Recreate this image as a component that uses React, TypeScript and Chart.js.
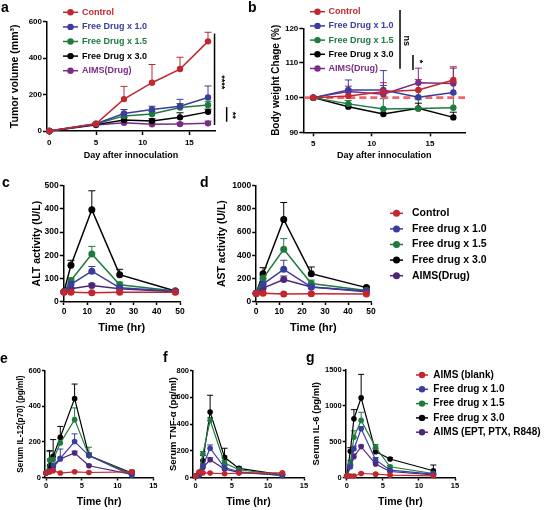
import React, { useEffect, useRef } from "react";
import { Chart, registerables } from "chart.js";
Chart.register(...registerables);

const FONT = '"Liberation Sans", Arial, Helvetica, sans-serif';
const RED = "#c1272d";
const BLUE = "#3b3d9e";
const GREEN = "#1e7b3d";
const BLACK = "#000000";
const PURPLE_A = "#7b2c86";
const PURPLE = "#4e2778";

// ---------- Panel a: tumor volume ----------
const aDays = [0, 5, 8, 11, 14, 17];
const aLabels = ["Control", "Free Drug x 1.0", "Free Drug x 1.5", "Free Drug x 3.0", "AIMS(Drug)"];
const aControl = [0, 40, 175, 265, 340, 492];
const aControlErr = [0, 5, 70, 100, 65, 50];
const aFree10 = [0, 40, 96, 118, 136, 184];
const aFree10Err = [0, 4, 22, 18, 38, 63];
const aFree15 = [0, 38, 83, 93, 129, 143];
const aFree15Err = [0, 4, 14, 14, 22, 20];
const aFree30 = [0, 35, 60, 55, 75, 105];
const aFree30Err = [0, 3, 14, 12, 25, 15];
const aAims = [0, 33, 45, 37, 38, 42];
const aAimsErr = [0, 3, 10, 8, 8, 12];
const aXTicks = [0, 5, 10, 15];
const aYTicks = [0, 200, 400, 600];

// ---------- Panel b: body weight ----------
const bDays = [5, 8, 11, 14, 17];
const bControl = [100, 100.5, 101.7, 102.2, 105.1];
const bControlErr = [0, 1.9, 2.6, 3, 3.8];
const bFree10 = [100, 102.2, 102.2, 100.1, 101.5];
const bFree10Err = [0, 2.9, 5.6, 2, 3];
const bFree15 = [100, 98.2, 96.7, 96.9, 97.1];
const bFree15Err = [0, 1, 3, 2.5, 4];
const bFree30 = [100, 97.4, 95.3, 96.9, 94.3];
const bFree30Err = [0, 0.8, 1.5, 1.5, 1.5];
const bAims = [100, 101.8, 101.0, 104.3, 104.1];
const bAimsErr = [0, 1.5, 2.5, 4.2, 4.4];
const bXTicks = [5, 10, 15];
const bYTicks = [90, 100, 110, 120];
const bReference = 100;

// ---------- Panels c, d: ALT / AST ----------
const cdLabels = ["Control", "Free drug x 1.0", "Free drug x 1.5", "Free drug x 3.0", "AIMS(Drug)"];
const cdTimes = [0, 3, 12, 24, 48];
const cControl = [40, 40, 38, 40, 40];
const cControlErr = [0, 3, 3, 3, 3];
const cFree10 = [42, 74, 131, 59, 44];
const cFree10Err = [0, 8, 20, 8, 3];
const cFree15 = [42, 91, 205, 72, 45];
const cFree15Err = [0, 10, 33, 12, 4];
const cFree30 = [42, 157, 396, 116, 45];
const cFree30Err = [0, 21, 82, 23, 5];
const cAims = [42, 55, 69, 55, 42];
const cAimsErr = [0, 5, 8, 5, 3];
const cYTicks = [0, 100, 200, 300, 400, 500];

const dControl = [70, 72, 65, 68, 65];
const dControlErr = [0, 5, 5, 5, 5];
const dFree10 = [72, 150, 278, 125, 90];
const dFree10Err = [0, 20, 78, 15, 10];
const dFree15 = [72, 200, 451, 155, 95];
const dFree15Err = [0, 25, 92, 30, 10];
const dFree30 = [72, 240, 708, 240, 120];
const dFree30Err = [0, 52, 147, 58, 10];
const dAims = [72, 115, 190, 125, 85];
const dAimsErr = [0, 15, 30, 15, 8];
const cdXTicks = [0, 10, 20, 30, 40, 50];
const dYTicks = [0, 200, 400, 600, 800, 1000];

// ---------- Panels e, f, g: cytokines ----------
const gLabels = ["AIMS (blank)", "Free drug x 1.0", "Free drug x 1.5", "Free drug x 3.0", "AIMS (EPT, PTX, R848)"];
const efgTimes = [0, 0.5, 1, 2, 4, 6, 12];
const efgXTicks = [0, 5, 10, 15];

const eBlank = [25, 32, 38, 25, 32, 28, 32];
const eBlankErr = [0, 3, 4, 3, 4, 3, 4];
const eFree10 = [25, 38, 66, 108, 202, 123, 12];
const eFree10Err = [0, 5, 15, 52, 43, 10, 30];
const eFree15 = [25, 98, 100, 194, 325, 123, 20];
const eFree15Err = [0, 47, 20, 23, 66, 47, 10];
const eFree30 = [25, 66, 119, 226, 443, 123, 25];
const eFree30Err = [0, 85, 94, 61, 82, 15, 10];
const eAims = [25, 32, 57, 104, 138, 66, 18];
const eAimsErr = [0, 5, 10, 10, 10, 8, 5];
const eYTicks = [0, 200, 400, 600];

const fBlank = [10, 43, 35, 33, 28, 33, 35];
const fBlankErr = [0, 4, 4, 4, 4, 4, 4];
const fFree10 = [10, 20, 88, 219, 75, 43, 15];
const fFree10Err = [0, 5, 15, 25, 15, 8, 5];
const fFree15 = [10, 25, 176, 428, 108, 58, 20];
const fFree15Err = [0, 8, 18, 20, 20, 10, 5];
const fFree30 = [10, 30, 126, 490, 151, 68, 20];
const fFree30Err = [0, 10, 40, 126, 68, 10, 5];
const fAims = [10, 20, 75, 133, 63, 38, 15];
const fAimsErr = [0, 5, 10, 15, 10, 5, 5];
const fYTicks = [0, 200, 400, 600, 800];

const gBlank = [20, 20, 20, 56, 47, 33, 23];
const gBlankErr = [0, 5, 5, 10, 8, 5, 5];
const gFree10 = [20, 150, 398, 680, 248, 103, 47];
const gFree10Err = [0, 30, 40, 30, 30, 10, 10];
const gFree15 = [20, 200, 562, 797, 422, 150, 56];
const gFree15Err = [0, 40, 90, 113, 40, 20, 10];
const gFree30 = [20, 366, 820, 1111, 361, 258, 94];
const gFree30Err = [0, 50, 127, 328, 40, 20, 80];
const gAims = [20, 150, 290, 431, 188, 84, 37];
const gAimsErr = [0, 20, 40, 20, 20, 10, 5];
const gYTicks = [0, 500, 1000, 1500];

type Series = { label: string; color: string; xs: number[]; ys: number[]; errs: number[] };

function five(labels: string[], colors: string[], xs: number[], ys: number[][], errs: number[][]): Series[] {
  return labels.map((label, i) => ({ label, color: colors[i], xs, ys: ys[i], errs: errs[i] }));
}

const COLORS_AB = [RED, BLUE, GREEN, BLACK, PURPLE_A];
const COLORS = [RED, BLUE, GREEN, BLACK, PURPLE];

const PANELS: any[] = [
  {
    box: [0, 0, 245, 170], area: [47, 21.7, 215, 131],
    xMin: -0.25, xMax: 17.75, xTicks: aXTicks, xTitle: "Day after innoculation", xTitleSize: 9, xTitleY: 155.2,
    yMin: 0, yMax: 600, yTicks: aYTicks, yTitle: "Tumor volume (mm³)", yTitleSize: 10.5, yTitleX: 15.6,
    tickSize: 8, tickLen: 4, xTickPad: 3, yTickPad: 1, pointR: 3.2, lineW: 1.5, cap: 3.5,
    series: five(aLabels, COLORS_AB, aDays,
      [aControl, aFree10, aFree15, aFree30, aAims],
      [aControlErr, aFree10Err, aFree15Err, aFree30Err, aAimsErr]),
    legend: { x: 63, y: 12.3, dy: 14.6, size: 9, colored: true, lineW: 15, r: 3.2, gap: 4 },
    sig: {
      lines: [{ x: 17.7, y1: 33, y2: 535 }, { x: 19.0, y1: 51, y2: 131 }],
      texts: [{ x: 18.45, y: 267, text: "****" }, { x: 19.65, y: 87, text: "**" }],
    },
  },
  {
    box: [262, 0, 284, 170], area: [303.3, 28.3, 465, 132.3],
    xMin: 4.14, xMax: 18, xTicks: bXTicks, xTitle: "Day after innoculation", xTitleSize: 9, xTitleY: 155.3,
    yMin: 90, yMax: 120, yTicks: bYTicks, yTitle: "Body weight Chage (%)", yTitleSize: 10, yTitleX: 276.5,
    tickSize: 8, tickLen: 4, xTickPad: 3, yTickPad: 1, pointR: 3.2, lineW: 1.5, cap: 3.5,
    series: five(aLabels, COLORS_AB, bDays,
      [bControl, bFree10, bFree15, bFree30, bAims],
      [bControlErr, bFree10Err, bFree15Err, bFree30Err, bAimsErr]),
    legend: { x: 310, y: 11.7, dy: 14.2, size: 9, colored: true, lineW: 15, r: 3.2, gap: 3.5 },
    refLine: bReference,
    sig: {
      lines: [{ x: 12.43, y1: 108.3, y2: 125.3 }, { x: 13.54, y1: 108, y2: 112.3 }],
      texts: [{ x: 12.98, y: 116.4, text: "ns" }, { x: 14.1, y: 110.4, text: "*" }],
    },
  },
  {
    box: [0, 170, 190, 170], area: [63.3, 185.7, 180, 301.5],
    xMin: -0.3, xMax: 50, xTicks: cdXTicks, xTitle: "Time (hr)", xTitleSize: 11, xTitleY: 328,
    yMin: 0, yMax: 500, yTicks: cYTicks, yTitle: "ALT activity (U/L)", yTitleSize: 10.5, yTitleX: 37.3,
    tickSize: 8.5, tickLen: 3.5, xTickPad: 2, yTickPad: 1, pointR: 3.5, lineW: 1.5, cap: 3.5,
    series: five(cdLabels, COLORS, cdTimes,
      [cControl, cFree10, cFree15, cFree30, cAims],
      [cControlErr, cFree10Err, cFree15Err, cFree30Err, cAimsErr]),
  },
  {
    box: [190, 170, 356, 170], area: [255.7, 185.7, 371, 301.5],
    xMin: -0.2, xMax: 50, xTicks: cdXTicks, xTitle: "Time (hr)", xTitleSize: 11, xTitleY: 328,
    yMin: 0, yMax: 1000, yTicks: dYTicks, yTitle: "AST activity (U/L)", yTitleSize: 10.5, yTitleX: 221.8,
    tickSize: 8.5, tickLen: 3.5, xTickPad: 2, yTickPad: 1, pointR: 3.5, lineW: 1.5, cap: 3.5,
    series: five(cdLabels, COLORS, cdTimes,
      [dControl, dFree10, dFree15, dFree30, dAims],
      [dControlErr, dFree10Err, dFree15Err, dFree30Err, dAimsErr]),
    legend: { x: 390, y: 213.3, dy: 15.6, size: 10.5, colored: false, lineW: 13, r: 3.5, gap: 9 },
  },
  {
    box: [0, 340, 170, 170], area: [45, 370.7, 153.3, 477.5],
    xMin: -0.14, xMax: 15, xTicks: efgXTicks, xTitle: "Time (hr)", xTitleSize: 10.5, xTitleY: 502.1,
    yMin: 0, yMax: 600, yTicks: eYTicks, yTitle: "Serum IL-12(p70) (pg/ml)", yTitleSize: 8.3, yTitleX: 20.5,
    tickSize: 7.5, tickLen: 3, xTickPad: 1, yTickPad: 1, pointR: 2.8, lineW: 1.2, cap: 3,
    series: five(gLabels, COLORS, efgTimes,
      [eBlank, eFree10, eFree15, eFree30, eAims],
      [eBlankErr, eFree10Err, eFree15Err, eFree30Err, eAimsErr]),
  },
  {
    box: [160, 340, 160, 170], area: [193, 370.7, 304, 477.5],
    xMin: -0.37, xMax: 15, xTicks: efgXTicks, xTitle: "Time (hr)", xTitleSize: 10.5, xTitleY: 502.1,
    yMin: 0, yMax: 800, yTicks: fYTicks, yTitle: "Serum TNF-α (pg/ml)", yTitleSize: 9.5, yTitleX: 173.2,
    tickSize: 7.5, tickLen: 3, xTickPad: 1, yTickPad: 1, pointR: 2.8, lineW: 1.2, cap: 3,
    series: five(gLabels, COLORS, efgTimes,
      [fBlank, fFree10, fFree15, fFree30, fAims],
      [fBlankErr, fFree10Err, fFree15Err, fFree30Err, fAimsErr]),
  },
  {
    box: [310, 340, 236, 170], area: [345.7, 370, 455, 477.5],
    xMin: -0.14, xMax: 15, xTicks: efgXTicks, xTitle: "Time (hr)", xTitleSize: 10.5, xTitleY: 502.1,
    yMin: 0, yMax: 1500, yTicks: gYTicks, yTitle: "Serum IL-6 (pg/ml)", yTitleSize: 9.5, yTitleX: 316.2,
    tickSize: 7.5, tickLen: 3, xTickPad: 1, yTickPad: 1, pointR: 2.8, lineW: 1.2, cap: 3,
    series: five(gLabels, COLORS, efgTimes,
      [gBlank, gFree10, gFree15, gFree30, gAims],
      [gBlankErr, gFree10Err, gFree15Err, gFree30Err, gAimsErr]),
    legend: { x: 416, y: 375, dy: 14.3, size: 10, colored: false, lineW: 12, r: 3.2, gap: 5.3 },
  },
];

const PANEL_LETTERS = [
  { t: "a", x: 1, y: 0 },
  { t: "b", x: 248, y: 0 },
  { t: "c", x: 2, y: 175 },
  { t: "d", x: 200, y: 175 },
  { t: "e", x: 0, y: 351 },
  { t: "f", x: 163, y: 350 },
  { t: "g", x: 306, y: 350 },
];

function build(canvas: HTMLCanvasElement, p: any) {
  const [bx, by, bw, bh] = p.box;
  const [al, at, ar, ab] = p.area;
  const yW = al - bx;
  const xH = by + bh - ab;
  const padTop = at - by;
  const padRight = bx + bw - ar;
  const tickFont = { family: FONT, size: p.tickSize, weight: "bold" as const };
  const xPadBottom = by + bh - p.xTitleY - (p.xTitleSize * 1.2) / 2;
  const yPadTop = p.yTitleX - bx - (p.yTitleSize * 1.2) / 2;

  const errorBars = {
    id: "errorBars",
    beforeDatasetsDraw(chart: any) {
      const ctx = chart.ctx;
      const ys = chart.scales.y;
      chart.data.datasets.forEach((ds: any, i: number) => {
        const meta = chart.getDatasetMeta(i);
        ctx.save();
        ctx.strokeStyle = ds.borderColor;
        ctx.lineWidth = 1;
        meta.data.forEach((pt: any, j: number) => {
          const e = ds.errs[j];
          if (!e) return;
          const top = ys.getPixelForValue(ds.data[j].y + e);
          ctx.beginPath();
          ctx.moveTo(pt.x, pt.y);
          ctx.lineTo(pt.x, top);
          ctx.moveTo(pt.x - p.cap, top);
          ctx.lineTo(pt.x + p.cap, top);
          ctx.stroke();
        });
        ctx.restore();
      });
      if (p.refLine !== undefined) {
        const y = ys.getPixelForValue(p.refLine);
        ctx.save();
        ctx.strokeStyle = "#f2646b";
        ctx.lineWidth = 2.6;
        ctx.setLineDash([7, 4]);
        ctx.beginPath();
        ctx.moveTo(chart.chartArea.left + 1, y);
        ctx.lineTo(chart.chartArea.right, y);
        ctx.stroke();
        ctx.restore();
      }
    },
  };

  const extras = {
    id: "extras",
    afterDraw(chart: any) {
      const ctx = chart.ctx;
      if (p.legend) {
        const L = p.legend;
        chart.data.datasets.forEach((ds: any, i: number) => {
          const x = L.x - bx;
          const y = L.y - by + i * L.dy;
          ctx.save();
          ctx.strokeStyle = ds.borderColor;
          ctx.fillStyle = ds.borderColor;
          ctx.lineWidth = 1.5;
          ctx.beginPath();
          ctx.moveTo(x, y);
          ctx.lineTo(x + L.lineW, y);
          ctx.stroke();
          ctx.beginPath();
          ctx.arc(x + L.lineW / 2, y, L.r, 0, Math.PI * 2);
          ctx.fill();
          ctx.font = `bold ${L.size}px ${FONT}`;
          ctx.fillStyle = L.colored ? ds.borderColor : "#000";
          ctx.textBaseline = "middle";
          ctx.textAlign = "left";
          ctx.fillText(ds.label, x + L.lineW + L.gap, y);
          ctx.restore();
        });
      }
      if (p.sig) {
        const xs = chart.scales.x;
        const ys = chart.scales.y;
        ctx.save();
        ctx.strokeStyle = "#000";
        ctx.lineWidth = 1.5;
        p.sig.lines.forEach((l: any) => {
          const x = xs.getPixelForValue(l.x);
          ctx.beginPath();
          ctx.moveTo(x, ys.getPixelForValue(l.y1));
          ctx.lineTo(x, ys.getPixelForValue(l.y2));
          ctx.stroke();
        });
        ctx.fillStyle = "#000";
        ctx.font = `bold 9px ${FONT}`;
        ctx.textAlign = "center";
        ctx.textBaseline = "middle";
        p.sig.texts.forEach((t: any) => {
          ctx.save();
          ctx.translate(xs.getPixelForValue(t.x), ys.getPixelForValue(t.y));
          ctx.rotate(Math.PI / 2);
          ctx.fillText(t.text, 0, 0);
          ctx.restore();
        });
        ctx.restore();
      }
    },
  };

  const grid = {
    display: true,
    drawOnChartArea: false,
    drawTicks: true,
    tickLength: p.tickLen,
    tickWidth: 1.5,
    tickColor: "#000",
    color: "#000",
  };
  const border = { display: true, color: "#000", width: 1.5 };

  return new Chart(canvas, {
    type: "line",
    data: {
      datasets: p.series.map((s: Series) => ({
        label: s.label,
        data: s.xs.map((x, i) => ({ x, y: s.ys[i] })),
        borderColor: s.color,
        backgroundColor: s.color,
        pointBackgroundColor: s.color,
        pointBorderColor: s.color,
        pointRadius: p.pointR,
        pointBorderWidth: 0,
        borderWidth: p.lineW,
        tension: 0,
        clip: false,
        errs: s.errs,
      })),
    },
    options: {
      responsive: false,
      animation: false,
      events: [],
      layout: { padding: { left: 0, top: padTop, right: padRight, bottom: 0 } },
      plugins: { legend: { display: false }, tooltip: { enabled: false } },
      scales: {
        x: {
          type: "linear",
          min: p.xMin,
          max: p.xMax,
          afterBuildTicks: (ax: any) => {
            ax.ticks = p.xTicks.map((v: number) => ({ value: v }));
          },
          afterFit: (s: any) => {
            s.height = xH;
          },
          ticks: {
            font: tickFont,
            color: "#000",
            padding: p.xTickPad,
            autoSkip: false,
            maxRotation: 0,
            minRotation: 0,
            callback: (v: any) => String(v),
          },
          grid,
          border,
          title: {
            display: true,
            text: p.xTitle,
            color: "#000",
            font: { family: FONT, size: p.xTitleSize, weight: "bold" },
            padding: { top: 0, bottom: xPadBottom },
          },
        },
        y: {
          type: "linear",
          min: p.yMin,
          max: p.yMax,
          afterBuildTicks: (ax: any) => {
            ax.ticks = p.yTicks.map((v: number) => ({ value: v }));
          },
          afterFit: (s: any) => {
            s.width = yW;
          },
          ticks: {
            font: tickFont,
            color: "#000",
            padding: p.yTickPad,
            autoSkip: false,
            callback: (v: any) => String(v),
          },
          grid,
          border,
          title: {
            display: true,
            text: p.yTitle,
            color: "#000",
            font: { family: FONT, size: p.yTitleSize, weight: "bold" },
            padding: { top: yPadTop, bottom: 0 },
          },
        },
      },
    } as any,
    plugins: [errorBars, extras],
  } as any);
}

export default function App() {
  const refs = useRef<(HTMLCanvasElement | null)[]>([]);
  useEffect(() => {
    const charts = PANELS.map((p, i) => build(refs.current[i] as HTMLCanvasElement, p));
    return () => charts.forEach((c) => c.destroy());
  }, []);
  return (
    <div
      style={{
        position: "fixed",
        left: 0,
        top: 0,
        width: 546,
        height: 510,
        background: "#fff",
        overflow: "hidden",
      }}
    >
      {PANELS.map((p, i) => (
        <canvas
          key={i}
          ref={(el) => {
            refs.current[i] = el;
          }}
          width={p.box[2]}
          height={p.box[3]}
          style={{
            position: "absolute",
            left: p.box[0],
            top: p.box[1],
            width: p.box[2],
            height: p.box[3],
          }}
        />
      ))}
      {PANEL_LETTERS.map((l) => (
        <div
          key={l.t}
          style={{
            position: "absolute",
            left: l.x,
            top: l.y,
            font: `bold 14px ${FONT}`,
            lineHeight: "14px",
            color: "#000",
          }}
        >
          {l.t}
        </div>
      ))}
    </div>
  );
}
